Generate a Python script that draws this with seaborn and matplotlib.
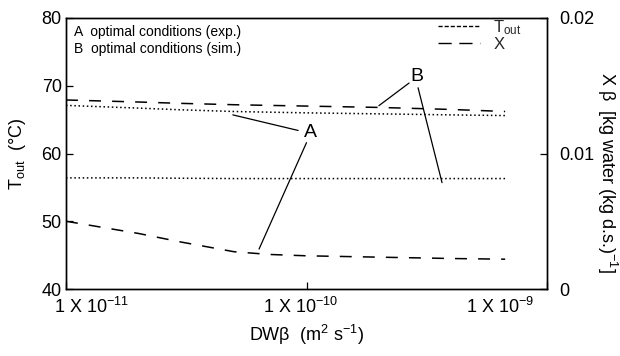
import matplotlib
matplotlib.use("Agg")
import matplotlib.pyplot as plt
import seaborn as sns
import numpy as np
import pandas as pd
from matplotlib.lines import Line2D
from matplotlib.ticker import NullLocator, FixedLocator
from matplotlib.transforms import ScaledTranslation

# ---- data ----
dw = [1e-11, 2e-11, 3e-11, 5e-11, 7e-11, 1e-10, 2e-10, 4e-10, 6.7e-10]
tout_exp = [67.1, 66.7, 66.45, 66.2, 66.1, 66.0, 65.85, 65.7, 65.6]
tout_sim = [56.4, 56.4, 56.35, 56.3, 56.3, 56.3, 56.3, 56.3, 56.3]
x_sim = [0.01395, 0.0138, 0.0137, 0.0136, 0.01355, 0.0135, 0.0134, 0.01325, 0.0131]
x_exp = [0.0050, 0.0041, 0.00347, 0.00275, 0.00255, 0.00245, 0.00235, 0.00225, 0.0022]

xticks = [1e-11, 1e-10, 1e-9]
xtick_labels = ["1 X 10$^{-11}$", "1 X 10$^{-10}$", "1 X 10$^{-9}$"]
yticks_left = [40, 50, 60, 70, 80]
yticks_right = [0, 0.01, 0.02]
yticks_right_labels = ["0", "0.01", "0.02"]

sns.set_theme(style="ticks")
plt.rcParams["font.family"] = ["Liberation Sans", "DejaVu Sans"]
plt.rcParams["mathtext.default"] = "regular"
plt.rcParams["lines.scale_dashes"] = False

fig = plt.figure(figsize=(6.2, 3.56), dpi=100)
ax = fig.add_axes([66 / 620, 1 - 289 / 356, 481 / 620, 271 / 356])
ax2 = ax.twinx()

dotted = (0, (1.1, 1.9))
dashed = (0, (8.6, 8.0))

df = pd.DataFrame({"dw": dw, "tout_exp": tout_exp, "tout_sim": tout_sim,
                   "x_sim": x_sim, "x_exp": x_exp})

sns.lineplot(data=df, x="dw", y="tout_exp", ax=ax, color="black", linestyle=dotted, lw=1.1, legend=False)
sns.lineplot(data=df, x="dw", y="tout_sim", ax=ax, color="black", linestyle=dotted, lw=1.1, legend=False)
sns.lineplot(data=df, x="dw", y="x_sim", ax=ax2, color="black", linestyle=dashed, lw=1.1, legend=False)
sns.lineplot(data=df, x="dw", y="x_exp", ax=ax2, color="black", linestyle=dashed, lw=1.1, legend=False)

ax.set_xscale("log")
ax.set_xlim(1e-11, 1e-9)
ax.set_ylim(40, 80)
ax2.set_ylim(0, 0.02)

ax.xaxis.set_major_locator(FixedLocator(xticks))
ax.xaxis.set_minor_locator(NullLocator())
ax.set_xticklabels(xtick_labels)
ax.set_yticks(yticks_left)
ax2.set_yticks(yticks_right)
ax2.set_yticklabels(yticks_right_labels)

for a in (ax, ax2):
    a.tick_params(direction="in", length=5, width=0.9, labelsize=13, colors="black")
    for s in a.spines.values():
        s.set_color("black")
        s.set_linewidth(1.0)
ax.tick_params(axis="y", pad=3)
ax2.tick_params(axis="y", pad=9)
ax.tick_params(axis="x", pad=6)

# shift x tick labels as in the reference
offsets_pt = [18.7, -4.3, -33.8]
for lab, dx in zip(ax.get_xticklabels(), offsets_pt):
    lab.set_transform(lab.get_transform() + ScaledTranslation(dx / 72, 0, fig.dpi_scale_trans))

ax.set_xlabel("DWβ  (m$^2$ s$^{-1}$)", fontsize=13, color="black", labelpad=4)
ax.set_ylabel("T$_{out}$  (°C)", fontsize=13, color="black", labelpad=10)
ax2.set_ylabel("X β  [kg water (kg d.s.)$^{-1}$]", fontsize=13, color="black",
               rotation=-90, va="center")
ax2.yaxis.set_label_coords(1.125, 0.43)

# text legend upper-left
ax.text(0.017, 0.948, "A  optimal conditions (exp.)", transform=ax.transAxes,
        fontsize=10, va="center", ha="left", color="black")
ax.text(0.017, 0.886, "B  optimal conditions (sim.)", transform=ax.transAxes,
        fontsize=10, va="center", ha="left", color="black")

# line-style legend upper-right
handles = [Line2D([], [], color="black", lw=1.0, linestyle=(0, (3.0, 1.4))),
           Line2D([], [], color="black", lw=1.0, linestyle=(0, (9.5, 5.5)))]
ax.legend(handles, ["T$_{out}$", "X"], loc="upper right", bbox_to_anchor=(0.965, 1.03),
          frameon=False, fontsize=12, handlelength=2.5, handletextpad=0.8,
          labelspacing=0.02, borderpad=0.0)

# annotations A and B
lw_a = 0.9
ax.text(1.035e-10, 63.1, "A", fontsize=14, ha="center", va="center", color="black")
ax.text(2.88e-10, 71.3, "B", fontsize=14, ha="center", va="center", color="black")
ann = [((4.94e-11, 65.7), (9.23e-11, 63.4)),
       ((6.35e-11, 45.9), (1.0e-10, 61.6)),
       ((2.0e-10, 67.06), (2.67e-10, 70.4)),
       ((3.66e-10, 55.7), (2.91e-10, 69.7))]
for xy, xyt in ann:
    ax.annotate("", xy=xy, xytext=xyt, xycoords="data", textcoords="data",
                arrowprops=dict(arrowstyle="-", lw=lw_a, color="black",
                                shrinkA=0, shrinkB=0))

fig.savefig("out.png", dpi=100)
